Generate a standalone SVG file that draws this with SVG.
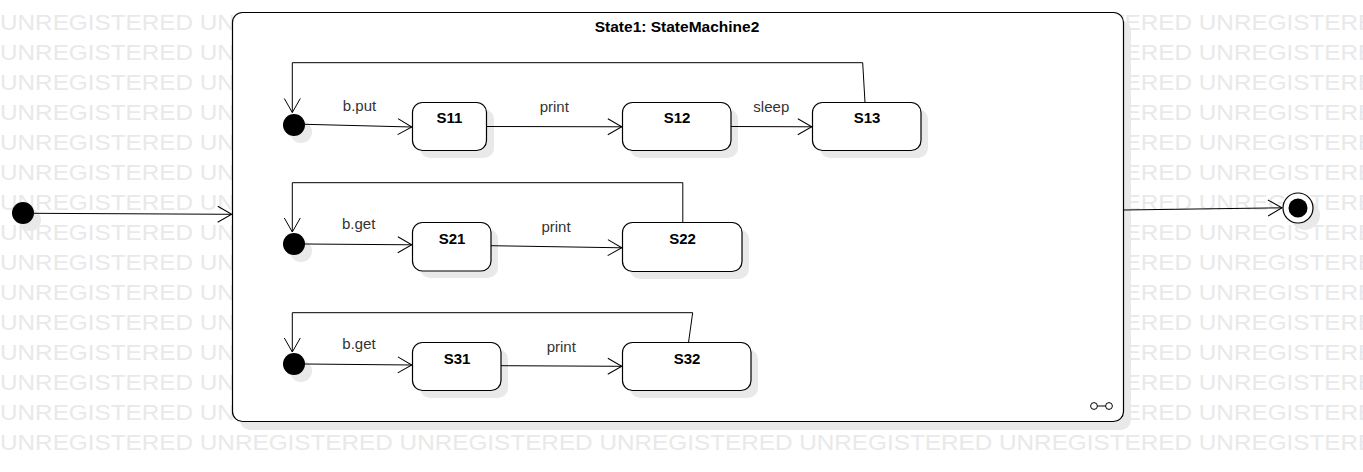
<svg xmlns="http://www.w3.org/2000/svg" width="1363" height="472" viewBox="0 0 1363 472">
<style>
.wm{font-family:"Liberation Sans",Arial,sans-serif;font-size:22px;fill:#e9e9e9}
.node{fill:#fff;stroke:#000;stroke-width:1.2}
.shadow{fill:#e9e9e9}
.name{font-family:"Liberation Sans",Arial,sans-serif;font-size:15px;font-weight:bold;fill:#000;text-anchor:middle}
.lbl{font-family:"Liberation Sans",Arial,sans-serif;font-size:15px;fill:#333;text-anchor:middle}
.edge{fill:none;stroke:#000;stroke-width:1}
</style>
<defs>
<marker id="arr" markerUnits="userSpaceOnUse" viewBox="-15 -10 17 20" refX="0" refY="0" markerWidth="17" markerHeight="20" orient="auto">
<path d="M-14,-8 L0,0 L-14,8" fill="none" stroke="#000" stroke-width="1"/>
</marker>
</defs>
<rect width="1363" height="472" fill="#fff"/>
<g id="watermark" transform="scale(1.105,1)">
<text class="wm" x="0" y="30">UNREGISTERED UNREGISTERED UNREGISTERED UNREGISTERED UNREGISTERED UNREGISTERED UNREGISTERED</text>
<text class="wm" x="0" y="60">UNREGISTERED UNREGISTERED UNREGISTERED UNREGISTERED UNREGISTERED UNREGISTERED UNREGISTERED</text>
<text class="wm" x="0" y="90">UNREGISTERED UNREGISTERED UNREGISTERED UNREGISTERED UNREGISTERED UNREGISTERED UNREGISTERED</text>
<text class="wm" x="0" y="120">UNREGISTERED UNREGISTERED UNREGISTERED UNREGISTERED UNREGISTERED UNREGISTERED UNREGISTERED</text>
<text class="wm" x="0" y="150">UNREGISTERED UNREGISTERED UNREGISTERED UNREGISTERED UNREGISTERED UNREGISTERED UNREGISTERED</text>
<text class="wm" x="0" y="180">UNREGISTERED UNREGISTERED UNREGISTERED UNREGISTERED UNREGISTERED UNREGISTERED UNREGISTERED</text>
<text class="wm" x="0" y="210">UNREGISTERED UNREGISTERED UNREGISTERED UNREGISTERED UNREGISTERED UNREGISTERED UNREGISTERED</text>
<text class="wm" x="0" y="240">UNREGISTERED UNREGISTERED UNREGISTERED UNREGISTERED UNREGISTERED UNREGISTERED UNREGISTERED</text>
<text class="wm" x="0" y="270">UNREGISTERED UNREGISTERED UNREGISTERED UNREGISTERED UNREGISTERED UNREGISTERED UNREGISTERED</text>
<text class="wm" x="0" y="300">UNREGISTERED UNREGISTERED UNREGISTERED UNREGISTERED UNREGISTERED UNREGISTERED UNREGISTERED</text>
<text class="wm" x="0" y="330">UNREGISTERED UNREGISTERED UNREGISTERED UNREGISTERED UNREGISTERED UNREGISTERED UNREGISTERED</text>
<text class="wm" x="0" y="360">UNREGISTERED UNREGISTERED UNREGISTERED UNREGISTERED UNREGISTERED UNREGISTERED UNREGISTERED</text>
<text class="wm" x="0" y="390">UNREGISTERED UNREGISTERED UNREGISTERED UNREGISTERED UNREGISTERED UNREGISTERED UNREGISTERED</text>
<text class="wm" x="0" y="420">UNREGISTERED UNREGISTERED UNREGISTERED UNREGISTERED UNREGISTERED UNREGISTERED UNREGISTERED</text>
<text class="wm" x="0" y="450">UNREGISTERED UNREGISTERED UNREGISTERED UNREGISTERED UNREGISTERED UNREGISTERED UNREGISTERED</text>
</g>
<g id="State1">
<rect class="shadow" x="240" y="20" width="891" height="410" rx="10"/>
<rect class="node" x="232.5" y="12.5" width="891" height="409" rx="10"/>
<text class="name" x="677" y="32" style="font-size:15.5px">State1: StateMachine2</text>
<g id="submachine-icon" fill="none" stroke="#000" stroke-width="1">
<circle cx="1094" cy="406" r="3.4"/>
<circle cx="1109" cy="406" r="3.4"/>
<line x1="1097.4" y1="406" x2="1105.6" y2="406"/>
</g>
</g>
<g id="init0"><circle class="shadow" cx="30" cy="220" r="11"/><circle cx="23" cy="213" r="11" fill="#000"/></g>
<g id="final"><circle class="shadow" cx="1305" cy="215" r="15"/><circle cx="1298" cy="208" r="15" fill="#fff" stroke="#000" stroke-width="1.2"/><circle cx="1298" cy="208" r="9.5" fill="#000"/></g>
<g id="init1"><circle class="shadow" cx="301" cy="132" r="11"/><circle cx="294" cy="125" r="11" fill="#000"/></g>
<g id="init2"><circle class="shadow" cx="301" cy="251" r="11"/><circle cx="294" cy="244" r="11" fill="#000"/></g>
<g id="init3"><circle class="shadow" cx="301" cy="371" r="11"/><circle cx="294" cy="364" r="11" fill="#000"/></g>
<g id="S11"><rect class="shadow" x="420" y="109" width="74" height="49" rx="10"/><rect class="node" x="412.5" y="102.5" width="74" height="48" rx="10"/><text class="name" x="449.5" y="123">S11</text></g>
<g id="S12"><rect class="shadow" x="630" y="109" width="108" height="49" rx="10"/><rect class="node" x="622.5" y="102.5" width="108.5" height="48" rx="10"/><text class="name" x="677" y="123">S12</text></g>
<g id="S13"><rect class="shadow" x="820" y="109" width="108" height="49" rx="10"/><rect class="node" x="812.5" y="102.5" width="108.5" height="48" rx="10"/><text class="name" x="867" y="123">S13</text></g>
<g id="S21"><rect class="shadow" x="420" y="229" width="78" height="49" rx="10"/><rect class="node" x="412.5" y="222.5" width="78.5" height="48.5" rx="10"/><text class="name" x="452" y="244">S21</text></g>
<g id="S22"><rect class="shadow" x="630" y="229" width="119" height="50" rx="10"/><rect class="node" x="622.5" y="222.5" width="119.5" height="49" rx="10"/><text class="name" x="682.5" y="244">S22</text></g>
<g id="S31"><rect class="shadow" x="420" y="349" width="88" height="49" rx="10"/><rect class="node" x="412.5" y="342.5" width="88.5" height="48" rx="10"/><text class="name" x="457" y="364">S31</text></g>
<g id="S32"><rect class="shadow" x="630" y="349" width="128" height="49" rx="10"/><rect class="node" x="622.5" y="342.5" width="128.5" height="48" rx="10"/><text class="name" x="687" y="364">S32</text></g>
<g id="connectors">
<path class="edge" d="M34,213.3 L231.7,214.3" marker-end="url(#arr)"/>
<path class="edge" d="M1123.5,210 L1282,207.8" marker-end="url(#arr)"/>
<path class="edge" d="M305,124.3 L411.8,127" marker-end="url(#arr)"/>
<path class="edge" d="M486.8,126.5 L621.8,126.8" marker-end="url(#arr)"/>
<path class="edge" d="M731,126.5 L811.8,126.8" marker-end="url(#arr)"/>
<path class="edge" d="M865,102.5 L862.7,62.7 L292.3,62.7 L292.3,112.5" marker-end="url(#arr)"/>
<path class="edge" d="M305,244 L411.8,244.8" marker-end="url(#arr)"/>
<path class="edge" d="M491,245.7 L621.8,247.8" marker-end="url(#arr)"/>
<path class="edge" d="M682.8,222.5 L682.8,182.7 L292.3,182.7 L292.3,232" marker-end="url(#arr)"/>
<path class="edge" d="M305,364 L411.8,365" marker-end="url(#arr)"/>
<path class="edge" d="M501,365.7 L621.8,366.3" marker-end="url(#arr)"/>
<path class="edge" d="M688.5,342.5 L692.7,312.7 L292.3,312.7 L292.3,352" marker-end="url(#arr)"/>
<text class="lbl" x="359.5" y="110.7">b.put</text>
<text class="lbl" x="554.3" y="111.7">print</text>
<text class="lbl" x="771.3" y="111.7">sleep</text>
<text class="lbl" x="358.7" y="228.7">b.get</text>
<text class="lbl" x="556" y="232.3">print</text>
<text class="lbl" x="359" y="349">b.get</text>
<text class="lbl" x="561.3" y="351.7">print</text>
</g>
</svg>
